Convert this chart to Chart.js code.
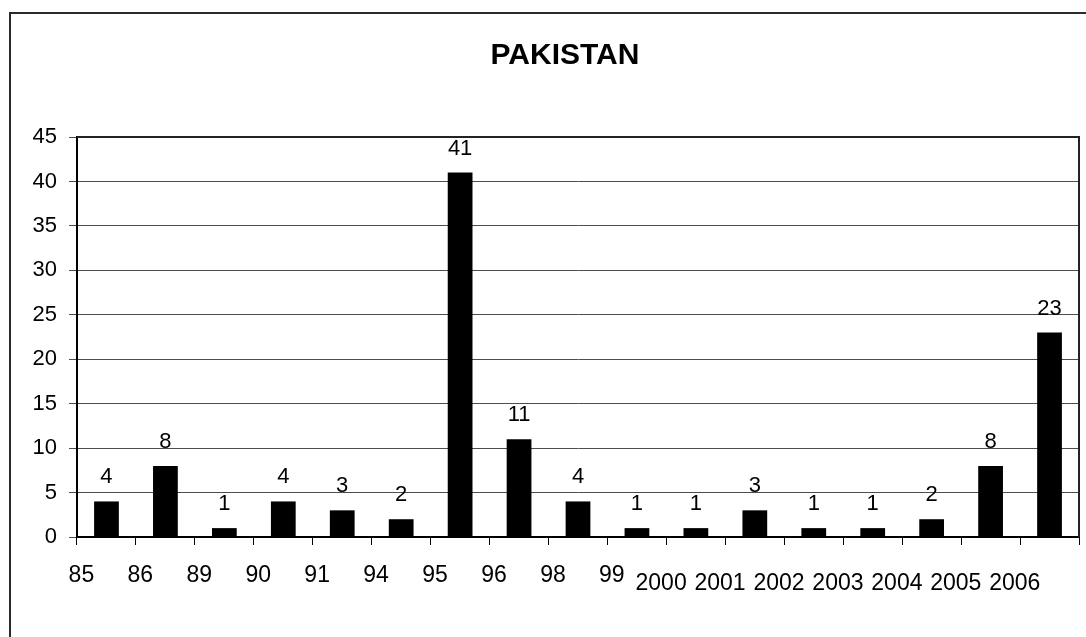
<!DOCTYPE html>
<html>
<head>
<meta charset="utf-8">
<script src="https://cdn.jsdelivr.net/npm/chart.js@4"></script>
<style>
  body { margin: 0; background: #fff; }
  canvas { display: block; }
</style>
</head>
<body>
<canvas id="chart" width="1086" height="637"></canvas>
<script>
// values
var years = ['85', '86', '89', '90', '91', '94', '95', '96', '98', '99',
             '2000', '2001', '2002', '2003', '2004', '2005', '2006'];
var counts = [4, 8, 1, 4, 3, 2, 41, 11, 4, 1, 1, 3, 1, 1, 2, 8, 23];
var yMin = 0, yMax = 45, yStep = 5;
var titleText = 'PAKISTAN';

var FONT = "'Liberation Sans', Arial, sans-serif";

// outer frame, title, plot area border
var framePlugin = {
  id: 'frame',
  beforeDraw: function(chart) {
    var ctx = chart.ctx;
    ctx.save();
    ctx.strokeStyle = '#2a2a2a';
    ctx.lineWidth = 2;
    ctx.beginPath();
    ctx.moveTo(10, chart.height);
    ctx.lineTo(10, 13);
    ctx.lineTo(chart.width, 13);
    ctx.stroke();
    // title is a bit left of the plot centre in the original
    ctx.font = 'bold 30px ' + FONT;
    ctx.fillStyle = '#000';
    ctx.textAlign = 'center';
    ctx.textBaseline = 'alphabetic';
    ctx.fillText(titleText, 565, 64);
    ctx.restore();
  },
  afterDatasetsDraw: function(chart) {
    var a = chart.chartArea, ctx = chart.ctx;
    ctx.save();
    ctx.strokeStyle = '#222';
    ctx.lineWidth = 2;
    ctx.beginPath();
    ctx.moveTo(a.left, a.top);
    ctx.lineTo(a.right, a.top);
    ctx.lineTo(a.right, a.bottom);
    ctx.stroke();
    ctx.restore();
  }
};

// value labels above bars
var valueLabels = {
  id: 'valueLabels',
  afterDatasetsDraw: function(chart) {
    var ctx = chart.ctx;
    var meta = chart.getDatasetMeta(0);
    ctx.save();
    ctx.font = '22px ' + FONT;
    ctx.fillStyle = '#000';
    ctx.textAlign = 'center';
    ctx.textBaseline = 'alphabetic';
    meta.data.forEach(function(bar, i) {
      ctx.fillText(String(counts[i]), bar.x, bar.y - 18);
    });
    ctx.restore();
  }
};

// year labels sit on the tick marks, not under the bars
var yearLabels = {
  id: 'yearLabels',
  afterDraw: function(chart) {
    var x = chart.scales.x, ctx = chart.ctx;
    var half = (x.getPixelForValue(1) - x.getPixelForValue(0)) / 2;
    ctx.save();
    ctx.font = '23px ' + FONT;
    ctx.fillStyle = '#000';
    ctx.textAlign = 'center';
    ctx.textBaseline = 'alphabetic';
    years.forEach(function(y, i) {
      var px = x.getPixelForValue(i) - half;
      var late = y.length > 2;
      ctx.fillText(y, px + (late ? -5.3 : 4.4), x.top + (late ? 53 : 45));
    });
    ctx.restore();
  }
};

var ctx = document.getElementById('chart').getContext('2d');
var chart = new Chart(ctx, {
  type: 'bar',
  data: {
    labels: years,
    datasets: [{
      data: counts,
      backgroundColor: '#000',
      borderWidth: 0,
      barPercentage: 0.42,
      categoryPercentage: 1
    }]
  },
  options: {
    responsive: false,
    animation: false,
    layout: { padding: { left: 12, right: 7, top: 137, bottom: 0 } },
    plugins: {
      legend: { display: false },
      tooltip: { enabled: false },
      title: { display: false }
    },
    scales: {
      x: {
        offset: true,
        afterFit: function(s) { s.height = 100; },
        grid: {
          offset: true,
          drawOnChartArea: false,
          drawTicks: true,
          tickLength: 8,
          color: '#000',
          lineWidth: 1
        },
        border: { display: true, color: '#000', width: 2 },
        ticks: { display: false }
      },
      y: {
        min: yMin,
        max: yMax,
        afterFit: function(s) { s.width = 65; },
        grid: { color: '#4d4d4d', lineWidth: 1, tickLength: 8 },
        border: { display: true, color: '#000', width: 2 },
        ticks: {
          stepSize: yStep,
          padding: 12,
          color: '#000',
          font: { family: FONT, size: 22 }
        }
      }
    }
  },
  plugins: [framePlugin, valueLabels, yearLabels]
});
</script>
</body>
</html>
